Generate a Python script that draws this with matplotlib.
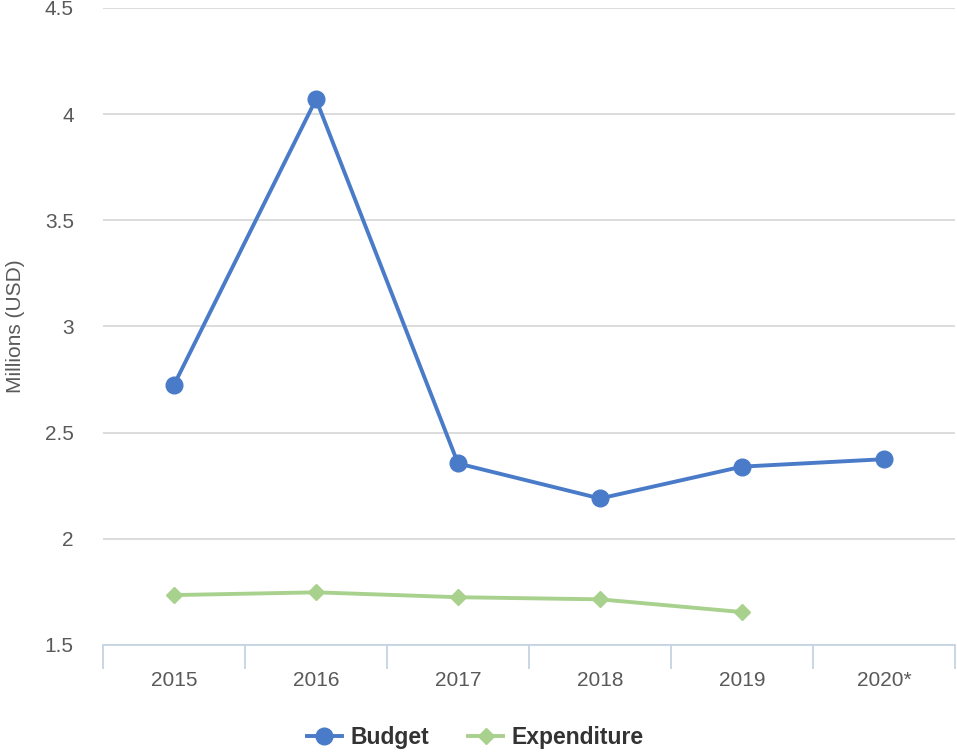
import matplotlib.pyplot as plt

plt.rcParams['font.family'] = ['Liberation Sans', 'DejaVu Sans']

# data
years = ['2015', '2016', '2017', '2018', '2019', '2020*']
budget = [2.725, 4.07, 2.355, 2.19, 2.34, 2.375]
expenditure = [1.735, 1.748, 1.725, 1.715, 1.655]

blue = '#4a7bc8'
green = '#a9d18e'
grey_text = '#595959'

fig = plt.figure(figsize=(9.57, 7.52), dpi=100)
ax = fig.add_axes([0.1076, 0.1423, 0.8904, 0.8471])

x = list(range(len(years)))
ax.plot(x, budget, color=blue, lw=2.8, marker='o', ms=12, label='Budget', zorder=3)
ax.plot(x[:len(expenditure)], expenditure, color=green, lw=2.8, marker='D', ms=8.5,
        label='Expenditure', zorder=3)

ax.set_xlim(-0.5, len(years) - 0.5)
ax.set_ylim(1.5, 4.5)
ax.set_yticks([1.5, 2, 2.5, 3, 3.5, 4, 4.5])
ax.set_yticklabels(['1.5', '2', '2.5', '3', '3.5', '4', '4.5'])
ax.grid(axis='y', color='#d9d9d9', lw=1.3)
ax.set_axisbelow(True)

# category boundaries as tick marks
ax.set_xticks([i - 0.5 for i in range(len(years) + 1)], minor=False)
ax.set_xticklabels([])
ax.set_xticks(x, minor=True)
ax.set_xticklabels(years, minor=True)
ax.tick_params(axis='x', which='major', length=17, width=1.3, color='#c5d3e3')
ax.tick_params(axis='x', which='minor', length=0, pad=19, labelsize=15, labelcolor=grey_text)
ax.tick_params(axis='y', length=0, pad=21, labelsize=15, labelcolor=grey_text)

for s in ['top', 'right', 'left']:
    ax.spines[s].set_visible(False)
ax.spines['bottom'].set_color('#c5d3e3')
ax.spines['bottom'].set_linewidth(1.3)

ax.set_ylabel('Millions (USD)', fontsize=15, color=grey_text, labelpad=14)

leg = fig.legend(loc='lower center', bbox_to_anchor=(0.497, -0.024), ncol=2, frameon=False,
                 prop={'weight': 'bold', 'size': 16.5}, handlelength=1.5, columnspacing=1.7,
                 handletextpad=0.4)
for t in leg.get_texts():
    t.set_color('#333333')

fig.savefig('out.png', dpi=100)
